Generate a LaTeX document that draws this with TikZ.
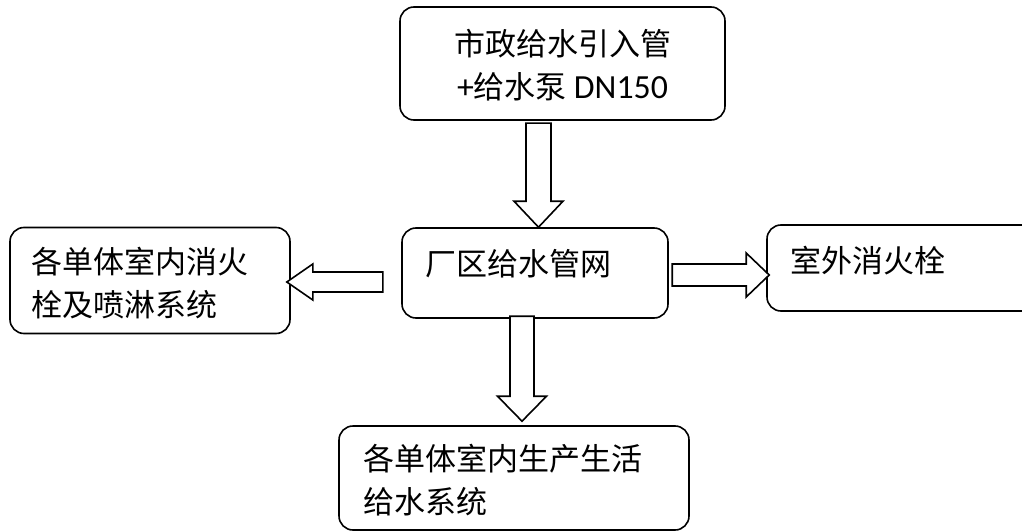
\documentclass[tikz,border=0pt]{standalone}
\usepackage{fontspec}
\setmainfont{Carlito}
\newfontfamily\cjk{Noto Sans CJK SC}
\newfontfamily\latinpart[Scale=1.09]{Carlito}
\tikzset{
  box/.style={draw, line width=1.6pt, rounded corners=14pt, inner sep=0pt},
  txt/.style={inner sep=0pt, font=\fontsize{31}{43}\selectfont\cjk, align=left},
  blockarrow/.style={draw, line width=1.6pt, fill=white, line join=miter},
}
\begin{document}
\begin{tikzpicture}[x=1pt, y=-1pt]
\useasboundingbox (0,0) rectangle (1022,532);
\clip (0,0) rectangle (1022,532);

% boxes
\node[box, minimum width=325pt, minimum height=113pt] (src) at (562.5,63.5) {};
\node[box, minimum width=266pt, minimum height=90pt]  (mid) at (535,273) {};
\node[box, minimum width=280pt, minimum height=106pt] (lft) at (150,280.5) {};
\node[box, minimum width=273pt, minimum height=86pt]  (rgt) at (903.5,268) {};
\node[box, minimum width=350pt, minimum height=104pt] (dst) at (514,478) {};

% hollow block arrows, anchored at their tips
\coordinate (t1) at ([xshift=3.5pt]mid.north);
\coordinate (t2) at ([xshift=-4pt,yshift=-1.5pt]lft.east);
\coordinate (t3) at ([xshift=3pt,yshift=-7pt]rgt.west);
\coordinate (t4) at ([xshift=8pt,yshift=4pt]dst.north);

\draw[blockarrow] (t1) -- ++(24.5,-26) -- ++(-12,0) -- ++(0,-78) -- ++(-25,0)
  -- ++(0,78) -- ++(-12,0) -- cycle;
\draw[blockarrow] (t2) -- ++(26,-18) -- ++(0,8) -- ++(70,0) -- ++(0,20)
  -- ++(-70,0) -- ++(0,8) -- cycle;
\draw[blockarrow] (t3) -- ++(-23,-22) -- ++(0,11) -- ++(-74,0) -- ++(0,22)
  -- ++(74,0) -- ++(0,11) -- cycle;
\draw[blockarrow] (t4) -- ++(24.5,-25) -- ++(-12.5,0) -- ++(0,-80) -- ++(-24,0)
  -- ++(0,80) -- ++(-12.5,0) -- cycle;

% texts (multi-line nodes sit on the baseline of their last line)
\node[txt, align=center, anchor=base] (srct) at (562.5,99)
  {市政给水引入管\\{\latinpart+}给水泵 {\latinpart DN150}};
\node[txt, anchor=base west] (midt) at (425,275) {厂区给水管网};
\node[txt, anchor=base west] (lftt) at (31,316) {各单体室内消火\\栓及喷淋系统};
\node[txt, anchor=base west] (rgtt) at (790,272) {室外消火栓};
\node[txt, anchor=base west] (dstt) at (363,513) {各单体室内生产生活\\给水系统};
\end{tikzpicture}
\end{document}
